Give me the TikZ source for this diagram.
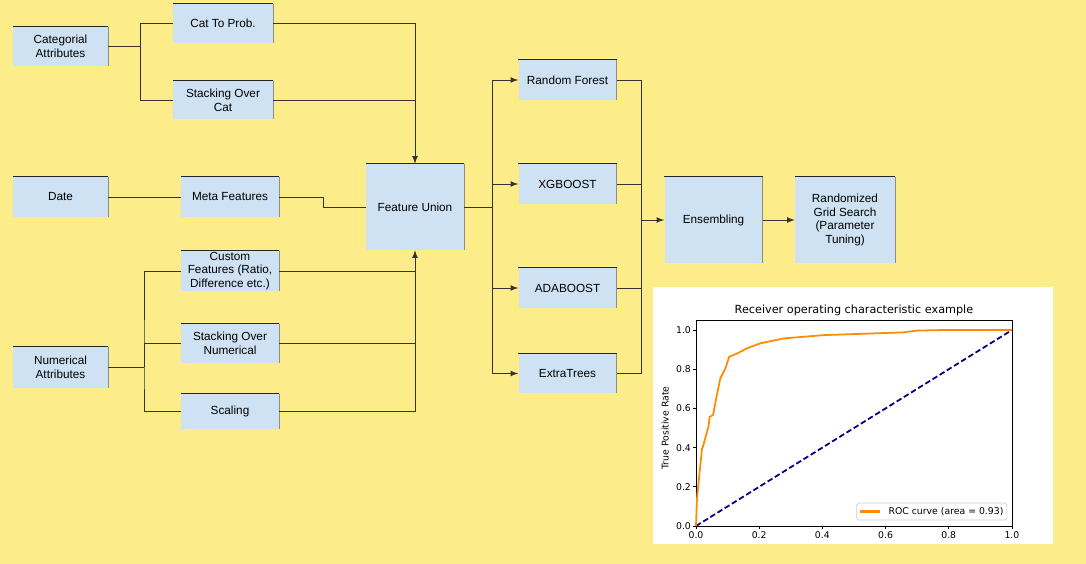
\documentclass[tikz,border=0pt]{standalone}
\usepackage{fontspec}
\setmainfont{Liberation Sans}
\newfontfamily\plotfont{DejaVu Sans}
\usetikzlibrary{arrows}

\definecolor{bgyellow}{RGB}{252,237,138}
\definecolor{boxblue}{RGB}{207,226,243}
\definecolor{rocorange}{RGB}{255,140,0}
\definecolor{rocnavy}{RGB}{0,0,128}

\begin{document}
\begin{tikzpicture}[x=0.02cm, y=-0.02cm, >=latex,
	blk/.style = {fill=boxblue, minimum width=1.96cm, minimum height=0.8cm,
		inner sep=0pt, align=center, font=\fontsize{6.7}{7.9}\selectfont,
		append after command = {(\tikzlastnode.north west) edge[black!85, line width=0.8pt] (\tikzlastnode.north east)
			(\tikzlastnode.north east) edge[black!45, line width=0.4pt] (\tikzlastnode.south east)}},
	big/.style = {blk, minimum height=1.72cm},
	wire/.style = {black!80, line width=0.5pt},
	tick/.style = {font=\plotfont\fontsize{5.3}{6}\selectfont, inner sep=1pt}]
	\fill[bgyellow] (0,0) rectangle (1086,564);
	% input side
	\node[blk, minimum width=1.9cm, minimum height=0.78cm] (cat) at (60.5,46.5) {Categorial\\Attributes};
	\node[blk, minimum width=1.9cm] (date) at (60.5,197) {Date};
	\node[blk, minimum width=1.9cm, minimum height=0.82cm] (num) at (60.5,367.5) {Numerical\\Attributes};
	\node[blk, minimum width=2cm, minimum height=0.78cm] (prob) at (223,23.5) {Cat To Prob.};
	\node[blk, minimum width=2cm, minimum height=0.76cm] (stcat) at (223,100) {Stacking Over\\Cat};
	\node[blk] (meta) at (230,197) {Meta Features};
	\node[blk] (custom) at (230,271) {Custom\\Features (Ratio,\\Difference etc.)};
	\node[blk, minimum height=0.78cm] (stnum) at (230,343.5) {Stacking Over\\Numerical};
	\node[blk, minimum height=0.7cm] (scal) at (230,411.5) {Scaling};
	\node[big] (union) at (415,207) {Feature Union};
	% models
	\node[blk] (rf) at (567.5,80) {Random Forest};
	\node[blk] (xgb) at (567.5,184) {XGBOOST};
	\node[blk] (ada) at (567.5,288) {ADABOOST};
	\node[blk, minimum height=0.78cm] (et) at (567.5,373.5) {ExtraTrees};
	\node[big] (ens) at (713.5,220) {Ensembling};
	\node[big, minimum width=2cm] (grid) at (845,220) {Randomized\\Grid Search\\(Parameter\\Tuning)};
	\coordinate (jc) at (140,46.5);
	\coordinate (jm) at (323,197);
	\coordinate (jn) at (144,367.5);
	\coordinate (js) at (492,207);
	\coordinate (jr) at (641,220);
	\draw[wire] (cat) -- (jc) |- (prob);
	\draw[wire] (jc) |- (stcat);
	\draw[wire,->] (prob) -| (union);
	\draw[wire] (stcat) -- (stcat -| union);
	\draw[wire] (date) -- (meta);
	\draw[wire] (meta) -- (jm) |- (union);
	\draw[wire] (num) -- (jn);
	\draw[wire] (custom) -| (jn) |- (scal);
	\draw[wire] (jn) |- (stnum);
	\draw[wire] (custom) -- (custom -| union);
	\draw[wire] (stnum) -- (stnum -| union);
	\draw[wire,->] (scal) -| (union);
	\draw[wire] (union) -- (js);
	\foreach \m in {rf,xgb,ada,et}{
		\draw[wire,->] (js) |- (\m);
		\draw[wire] (\m) -| (jr);
	}
	\draw[wire,->] (jr) -- (ens);
	\draw[wire,->] (ens) -- (grid);
	% roc plot
	\fill[white] (653,287) rectangle (1053,544);
	\begin{scope}[shift={(696,526)}, x=6.32cm, y=3.92cm]
		\draw[black, line width=0.4pt] (0,0) rectangle (1,1.05);
		\foreach \t in {0.0,0.2,0.4,0.6,0.8,1.0}{
			\draw[line width=0.4pt] (\t,0) -- ++(0,-0.06cm) node[tick, anchor=north] {\t};
			\draw[line width=0.4pt] (0,\t) -- ++(-0.06cm,0) node[tick, anchor=east] {\t};
		}
		\node[font=\plotfont\fontsize{6.4}{7}\selectfont] (title) at (0.5,1.1) {Receiver operating characteristic example};
		\node[tick, rotate=90] (ylab) at (-0.098,0.5) {True Positive Rate};
		\draw[rocnavy, line width=1pt, dashed, dash pattern=on 3.2pt off 1.6pt] (0,0) -- (1,1);
		\draw[rocorange, line width=1pt, line join=round] (0,0) -- (0.003,0.14) -- (0.019,0.395) -- (0.021,0.40)
			-- (0.04,0.51) -- (0.043,0.557) -- (0.054,0.566) -- (0.066,0.668) -- (0.077,0.753)
			-- (0.093,0.804) -- (0.105,0.864) -- (0.13,0.88) -- (0.16,0.906) -- (0.203,0.932)
			-- (0.277,0.957) -- (0.403,0.974) -- (0.656,0.988) -- (0.698,0.997) -- (0.78,1.0) -- (1,1);
		\draw[black!20, rounded corners=1pt, fill=white, line width=0.4pt] (0.509,0.031) rectangle (0.984,0.117);
		\draw[draw=rocorange, line width=1.3pt] (0.519,0.074) -- (0.582,0.074);
		\node[tick, anchor=west] (leg) at (0.603,0.074) {ROC curve (area = 0.93)};
	\end{scope}
\end{tikzpicture}
\end{document}
